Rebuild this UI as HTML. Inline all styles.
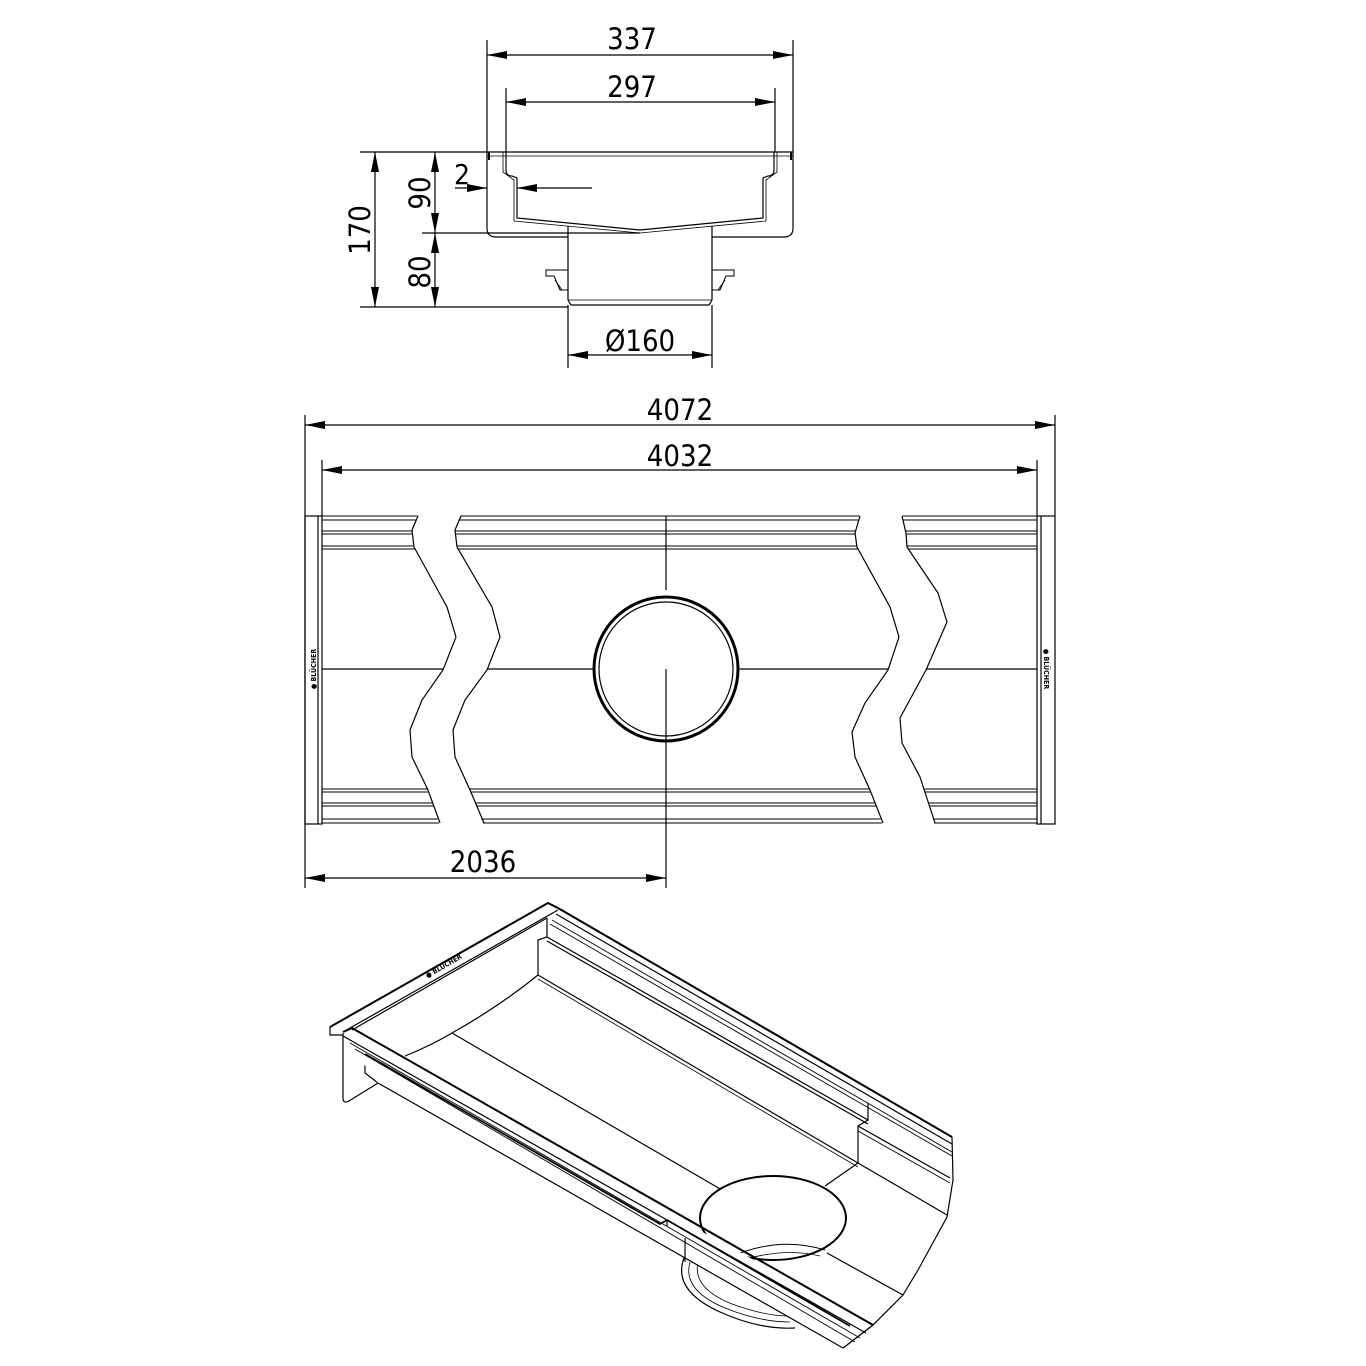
<!DOCTYPE html>
<html><head><meta charset="utf-8"><style>
html,body{margin:0;padding:0;background:#fff;}
svg{display:block;}
text{font-family:"DejaVu Sans Condensed","Liberation Sans",sans-serif;fill:#000;}
</style></head><body>
<svg width="1366" height="1366" viewBox="0 0 1366 1366" xmlns="http://www.w3.org/2000/svg">
<defs>
<marker id="a" viewBox="0 0 20 8" refX="20" refY="4" markerWidth="24" markerHeight="8" markerUnits="userSpaceOnUse" orient="auto-start-reverse"><path d="M0,0 L20,4 L0,8 Z" fill="#000"/></marker>
</defs>
<g stroke="#000" fill="none" stroke-width="1.2">
<!-- ===== Section view ===== -->
<line x1="487" y1="40" x2="487" y2="152"/><line x1="793" y1="40" x2="793" y2="152"/>
<line x1="487" y1="55" x2="793" y2="55" marker-start="url(#a)" marker-end="url(#a)"/>
<line x1="506" y1="88" x2="506" y2="152"/><line x1="775" y1="88" x2="775" y2="152"/>
<line x1="506" y1="102" x2="775" y2="102" marker-start="url(#a)" marker-end="url(#a)"/>
<path d="M487,152 L487,228 Q487,237 496,237 L568,237 M712,237 L784,237 Q793,237 793,228 L793,152"/>
<line x1="487" y1="152" x2="793" y2="152"/>
<line x1="487" y1="156" x2="793" y2="156" stroke-width="0.8"/>
<path d="M506,152 L506,170 Q506,176 512,176 L517,178 L517,218 L640,230 L763,218 L763,178 L768,176 Q774,176 774,170 L774,152"/>
<path d="M503,152 L503,172 L514,180 L514,221 L640,233 L766,221 L766,180 L777,172 L777,152" stroke-width="0.8"/>
<path d="M489,152 L489,160 M791,152 L791,160" stroke-width="2"/>
<path d="M568,226 L568,300 L571,305 L709,305 L712,300 L712,226"/>
<line x1="568" y1="300" x2="712" y2="300" stroke-width="0.8"/>
<path d="M546,270 L568,270 L568,290 L560,290 L554,276 L546,276 Z" stroke-width="1"/>
<path d="M734,270 L712,270 L712,290 L720,290 L726,276 L734,276 Z" stroke-width="1"/>
<path d="M555,280 L562,290 M725,280 L718,290" stroke-width="1"/>
<line x1="360" y1="152" x2="487" y2="152"/>
<line x1="360" y1="307" x2="568" y2="307"/>
<line x1="422" y1="233" x2="640" y2="233"/>
<line x1="375" y1="152" x2="375" y2="307" marker-start="url(#a)" marker-end="url(#a)"/>
<line x1="435" y1="152" x2="435" y2="233" marker-start="url(#a)" marker-end="url(#a)"/>
<line x1="435" y1="233" x2="435" y2="307" marker-start="url(#a)" marker-end="url(#a)"/>
<line x1="455" y1="188" x2="487" y2="188" marker-end="url(#a)"/>
<line x1="592" y1="188" x2="517" y2="188" marker-end="url(#a)"/>
<line x1="568" y1="305" x2="568" y2="368"/><line x1="712" y1="305" x2="712" y2="368"/>
<line x1="568" y1="355" x2="712" y2="355" marker-start="url(#a)" marker-end="url(#a)"/>

<!-- ===== Plan view ===== -->
<line x1="305" y1="415" x2="305" y2="888"/><line x1="1055" y1="415" x2="1055" y2="516"/>
<line x1="322" y1="460" x2="322" y2="516"/><line x1="1037" y1="460" x2="1037" y2="516"/>
<line x1="305" y1="425" x2="1055" y2="425" marker-start="url(#a)" marker-end="url(#a)"/>
<line x1="322" y1="470" x2="1037" y2="470" marker-start="url(#a)" marker-end="url(#a)"/>
<line x1="666" y1="516" x2="666" y2="590"/>
<line x1="666" y1="669" x2="666" y2="888"/>
<line x1="305" y1="878" x2="666" y2="878" marker-start="url(#a)" marker-end="url(#a)"/>
<rect x="305" y="516" width="17" height="308"/><line x1="318" y1="516" x2="318" y2="824"/>
<rect x="1037" y="516" width="18" height="308"/><line x1="1041" y1="516" x2="1041" y2="824"/>
<g stroke-width="1">
<line x1="322" y1="516" x2="1037" y2="516"/><line x1="322" y1="520" x2="1037" y2="520"/>
<line x1="322" y1="531" x2="1037" y2="531"/><line x1="322" y1="534" x2="1037" y2="534"/>
<line x1="322" y1="546" x2="1037" y2="546"/><line x1="322" y1="549" x2="1037" y2="549"/>
<line x1="322" y1="789" x2="1037" y2="789"/><line x1="322" y1="792" x2="1037" y2="792"/>
<line x1="322" y1="803" x2="1037" y2="803"/><line x1="322" y1="806" x2="1037" y2="806"/>
<line x1="322" y1="819" x2="1037" y2="819"/><line x1="322" y1="823" x2="1037" y2="823"/>
</g>
<line x1="322" y1="669" x2="1037" y2="669"/>
<polygon fill="#fff" stroke="none" points="418,514 412,530 414,547 447,607 456,637 443,670 422,700 410,730 412,757 428,790 440,826 484,826 470,790 455,757 453,730 465,700 487,670 500,637 492,607 457,547 455,530 461,514"/>
<polyline points="418,516 412,530 414,547 447,607 456,637 443,670 422,700 410,730 412,757 428,790 440,823"/>
<polyline points="461,516 455,530 457,547 492,607 500,637 487,670 465,700 453,730 455,757 470,790 484,823"/>
<polygon fill="#fff" stroke="none" points="860,514 855,533 857,547 890,607 899,637 888,670 865,703 852,732 855,757 870,790 883,826 935,826 920,777 902,743 900,718 926,670 947,622 938,593 907,547 906,533 902,514"/>
<polyline points="860,516 855,533 857,547 890,607 899,637 888,670 865,703 852,732 855,757 870,790 883,823"/>
<polyline points="902,516 906,533 907,547 938,593 947,622 926,670 900,718 902,743 920,777 935,823"/>
<circle cx="666" cy="669" r="72" fill="#fff" stroke-width="3"/>
<circle cx="666" cy="669" r="67"/>
<line x1="666" y1="669" x2="666" y2="741"/>

<!-- ===== Isometric ===== -->
<!-- outlet (drawn first, behind) -->
<path d="M684,1258 Q672,1290 720,1312 Q760,1330 795,1328" stroke-width="1.2"/>
<path d="M690,1262 Q682,1290 725,1308 Q760,1322 790,1322" stroke-width="0.8"/>
<path d="M698,1262 Q692,1288 732,1304 Q765,1316 788,1316" stroke-width="0.8"/>
<!-- end plate and left -->
<path d="M330,1027 L330,1035 L343,1035"/>
<path d="M343,1033 L343,1098 Q343,1104 349,1101 L378,1083"/>
<path d="M365,1052 L365,1073 L378,1083"/>
<!-- short end rim -->
<path d="M330,1027 L548,903 L558,908" stroke-width="2"/>
<path d="M343,1032 L558,910"/>
<path d="M352,1030 L547,918"/>
<!-- back rim lines -->
<path d="M558,908 L952,1137" stroke-width="2"/>
<path d="M556,914 L952,1144"/>
<path d="M552,920 L952,1152" stroke-width="0.9"/>
<path d="M550,924 L952,1156" stroke-width="0.9"/>
<!-- back wall -->
<path d="M547,918 L547,937 L538,940 L538,975"/>
<path d="M547,937 L868,1120 L868,1103"/>
<path d="M547,941 L868,1124"/>
<path d="M868,1120 L858,1126 L858,1163"/>
<path d="M858,1126 L950,1178"/>
<path d="M858,1131 L950,1183" stroke-width="0.9"/>
<path d="M538,975 L858,1163" stroke-width="1.2"/>
<path d="M538,979 L858,1167" stroke-width="0.8"/>
<path d="M858,1163 L947,1215"/>
<path d="M858,1163 L825,1186"/>
<!-- floor -->
<path d="M405,1056 Q430,1046 452,1033 Q500,1006 538,975"/>
<path d="M452,1033 L722,1190"/>
<path d="M827,1253 L903,1295"/>
<!-- right end profile -->
<path d="M952,1137 L953,1180 L947,1217 L918,1270 L903,1295 L873,1325 L843,1348"/>
<!-- hole -->
<ellipse cx="773" cy="1218" rx="73" ry="42" fill="#fff" stroke-width="2"/>
<path d="M733,1256 Q780,1236 825,1250" stroke-width="1"/>
<path d="M740,1261 Q783,1247 820,1256" stroke-width="0.8"/>
<!-- front rim -->
<path d="M343,1036 L378,1083 L843,1348 L873,1325" fill="#fff" stroke="none"/>
<path d="M343,1032 L352,1028 L873,1325" stroke-width="2"/>
<path d="M343,1036 L866,1333" fill="none"/>
<path d="M350,1043 L860,1338" stroke-width="0.9"/>
<path d="M355,1049 L855,1342" stroke-width="0.9"/>
<path d="M365,1054 L660,1224 L667,1220 L850,1326" stroke-width="1.8"/>
<path d="M378,1083 L843,1348"/>
<path d="M843,1348 L873,1325"/>
<path d="M667,1220 L667,1226 M685,1238 L685,1262"/>
</g>
<g font-size="29">
<text x="632" y="49" text-anchor="middle">337</text>
<text x="632" y="97" text-anchor="middle">297</text>
<text x="462" y="184" text-anchor="middle" font-size="28">2</text>
<text x="640" y="351" text-anchor="middle">Ø160</text>
<text x="680" y="420" text-anchor="middle">4072</text>
<text x="680" y="466" text-anchor="middle">4032</text>
<text x="483" y="872" text-anchor="middle">2036</text>
<text transform="translate(370,230) rotate(-90)" text-anchor="middle">170</text>
<text transform="translate(430,193) rotate(-90)" text-anchor="middle">90</text>
<text transform="translate(430,272) rotate(-90)" text-anchor="middle">80</text>
</g>
<g font-size="7" font-weight="bold">
<text transform="translate(316,669) rotate(-90)" text-anchor="middle">● BLÜCHER</text>
<text transform="translate(1044,669) rotate(90)" text-anchor="middle">● BLÜCHER</text>
<text transform="translate(445,968) rotate(-30)" text-anchor="middle">● BLÜCHER</text>
</g>
</svg>
</body></html>
